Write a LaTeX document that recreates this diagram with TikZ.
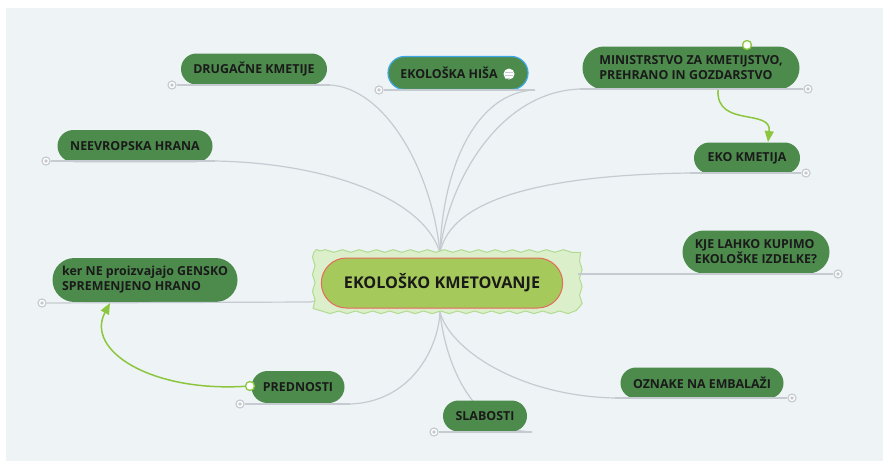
\documentclass[tikz,border=0pt]{standalone}
\usepackage{fontspec}
\setmainfont{Open Sans}
\usetikzlibrary{shapes.misc, arrows.meta, decorations.pathmorphing}
\definecolor{paper}{HTML}{EEF3F6}
\definecolor{twig}{HTML}{C5CBD0}
\definecolor{leaf}{HTML}{4D8B4D}
\definecolor{ink}{HTML}{1A1A1A}
\definecolor{lime}{HTML}{A5C95A}
\definecolor{rim}{HTML}{E46B5E}
\definecolor{mist}{HTML}{DCEFCB}
\definecolor{moss}{HTML}{B0DB90}
\definecolor{sprout}{HTML}{8CC63F}
\definecolor{sky}{HTML}{3FA9E8}
\begin{document}
\begin{tikzpicture}[x=1pt, y=-1pt,
    topic/.style={rounded rectangle, fill=leaf, text=ink, font=\fontsize{12.4}{15}\selectfont\bfseries, align=left, inner sep=0pt},
    branch/.style={draw=twig, line width=1.2pt},
    knob/.style={circle, fill=white, draw=twig, line width=1.2pt, minimum size=8pt, inner sep=0pt},
    link/.style={draw=sprout, line width=1.5pt},
    grip/.style={circle, fill=white, draw=sprout, line width=1.3pt, minimum size=9pt, inner sep=0pt}]
    % paper and margins
    \useasboundingbox (0,0) rectangle (883,461);
    \fill[paper] (6,8) rectangle (883,461);

    % hub points where the branches meet
    \coordinate (hubT) at (440,253);
    \coordinate (hubB) at (440,312);

    % underline ends of the topics
    \coordinate (eDrug) at (330,85);
    \coordinate (eHisa) at (535,90);
    \coordinate (eMini) at (580,89);
    \coordinate (eEko) at (690,173);
    \coordinate (eNeev) at (215,161);
    \coordinate (eKje) at (578,274);
    \coordinate (eKer) at (310,302);
    \coordinate (eOzn) at (615,398);
    \coordinate (ePred) at (350,404);
    \coordinate (eSlab) at (532,432);

    % branches from the centre
    \draw[branch] (eDrug) .. controls (385,88) and (432,170) .. (hubT);
    \draw[branch] (eHisa) .. controls (475,92) and (442,170) .. (hubT);
    \draw[branch] (eMini) .. controls (495,92) and (446,190) .. (hubT);
    \draw[branch] (eEko) .. controls (540,175) and (450,200) .. (hubT);
    \draw[branch] (eNeev) .. controls (330,163) and (425,200) .. (hubT);
    \draw[branch] (eKer) -- (320,300);
    \draw[branch] (eKje) -- (570,274);
    \draw[branch] (eOzn) .. controls (520,396) and (450,350) .. (hubB);
    \draw[branch] (ePred) .. controls (410,402) and (438,350) .. (hubB);
    \draw[branch] (eSlab) .. controls (470,430) and (445,360) .. (hubB);

    % cloud behind the central topic
    \draw[moss, fill=mist, line width=1pt, decorate, decoration={snake, segment length=17pt, amplitude=1.3pt}]
        (320,251) -- (568,251) .. controls (576,251) and (577,256) .. (577,262) -- (577,302)
        .. controls (577,309) and (575,313) .. (568,313) -- (320,313) .. controls (313,313) and (311,309) .. (311,302)
        -- (311,262) .. controls (311,255) and (313,251) .. (320,251);

    % central topic
    \node[rounded rectangle, fill=lime, draw=rim, line width=1pt, minimum width=248pt, minimum height=50pt,
          font=\fontsize{16.2}{19}\selectfont\bfseries, text=ink] (root) at (442,283) {EKOLOŠKO KMETOVANJE};

    % topics
    \node[topic, minimum width=146pt, minimum height=31pt] (drug) at (254,69) {DRUGAČNE KMETIJE};
    \node[topic, draw=sky, line width=1.2pt, minimum width=140pt, minimum height=33pt] (hisa) at (458,73) {EKOLOŠKA HIŠA\hspace{18pt}};
    \node[topic, minimum width=217pt, minimum height=43pt] (mini) at (691,68) {MINISTRSTVO ZA KMETIJSTVO,\\PREHRANO IN GOZDARSTVO};
    \node[topic, minimum width=106pt, minimum height=31pt] (eko) at (747,158) {EKO KMETIJA};
    \node[topic, minimum width=155pt, minimum height=32pt] (neev) at (135,146) {NEEVROPSKA HRANA};
    \node[topic, minimum width=147pt, minimum height=43pt] (kje) at (756,252) {KJE LAHKO KUPIMO\\EKOLOŠKE IZDELKE?};
    \node[topic, minimum width=185pt, minimum height=44pt] (ker) at (145,280) {ker NE proizvajajo GENSKO\\SPREMENJENO HRANO};
    \node[topic, minimum width=163pt, minimum height=31pt] (ozn) at (702,383) {OZNAKE NA EMBALAŽI};
    \node[topic, minimum width=93pt, minimum height=32pt] (pred) at (298,387) {PREDNOSTI};
    \node[topic, minimum width=84pt, minimum height=31pt] (slab) at (485,416) {SLABOSTI};

    % note icon on the house topic
    \node[circle, fill=white, minimum size=11pt, inner sep=0pt] (note) at (509,74) {};
    \draw[twig, line width=0.8pt] (505,72) -- (513,72) (505,75) -- (513,75) (505,78) -- (510,78);

    % knobs at the free ends of the underlines
    \node[knob] (kDrug) at (172,85) {};
    \node[knob] (kHisa) at (379,90) {};
    \node[knob] (kMini) at (808,89) {};
    \node[knob] (kEko) at (806,173) {};
    \node[knob] (kNeev) at (46,161) {};
    \node[knob] (kKje) at (838,274) {};
    \node[knob] (kKer) at (42,303) {};
    \node[knob] (kOzn) at (792,398) {};
    \node[knob] (kPred) at (240,404) {};
    \node[knob] (kSlab) at (434,432) {};
    \foreach \k in {kDrug,kHisa,kMini,kEko,kNeev,kKje,kKer,kOzn,kPred,kSlab}
        \fill[twig!80!black!60] (\k) circle (1.8pt);

    % underlines
    \draw[branch] (kDrug) -- (eDrug);
    \draw[branch] (kHisa) -- (eHisa);
    \draw[branch] (kMini) -- (eMini);
    \draw[branch] (kEko) -- (eEko);
    \draw[branch] (kNeev) -- (eNeev);
    \draw[branch] (kKje) -- (eKje);
    \draw[branch] (kKer) -- (eKer);
    \draw[branch] (kOzn) -- (eOzn);
    \draw[branch] (kPred) -- (ePred);
    \draw[branch] (kSlab) -- (eSlab);

    % relationships
    \coordinate (mFoot) at (718,90);
    \coordinate (ekoTop) at (768,142);
    \coordinate (kerFoot) at (110,303);
    \node[grip] (gMini) at (747,45) {};
    \node[grip] (gPred) at (250,386) {};
    \draw[link, -{Triangle[length=11pt, width=9pt]}] (mFoot) .. controls (716,128) and (772,108) .. (ekoTop);
    \draw[link, -{Triangle[length=11pt, width=9pt]}] (gPred) .. controls (150,392) and (85,350) .. (kerFoot);
\end{tikzpicture}
\end{document}
